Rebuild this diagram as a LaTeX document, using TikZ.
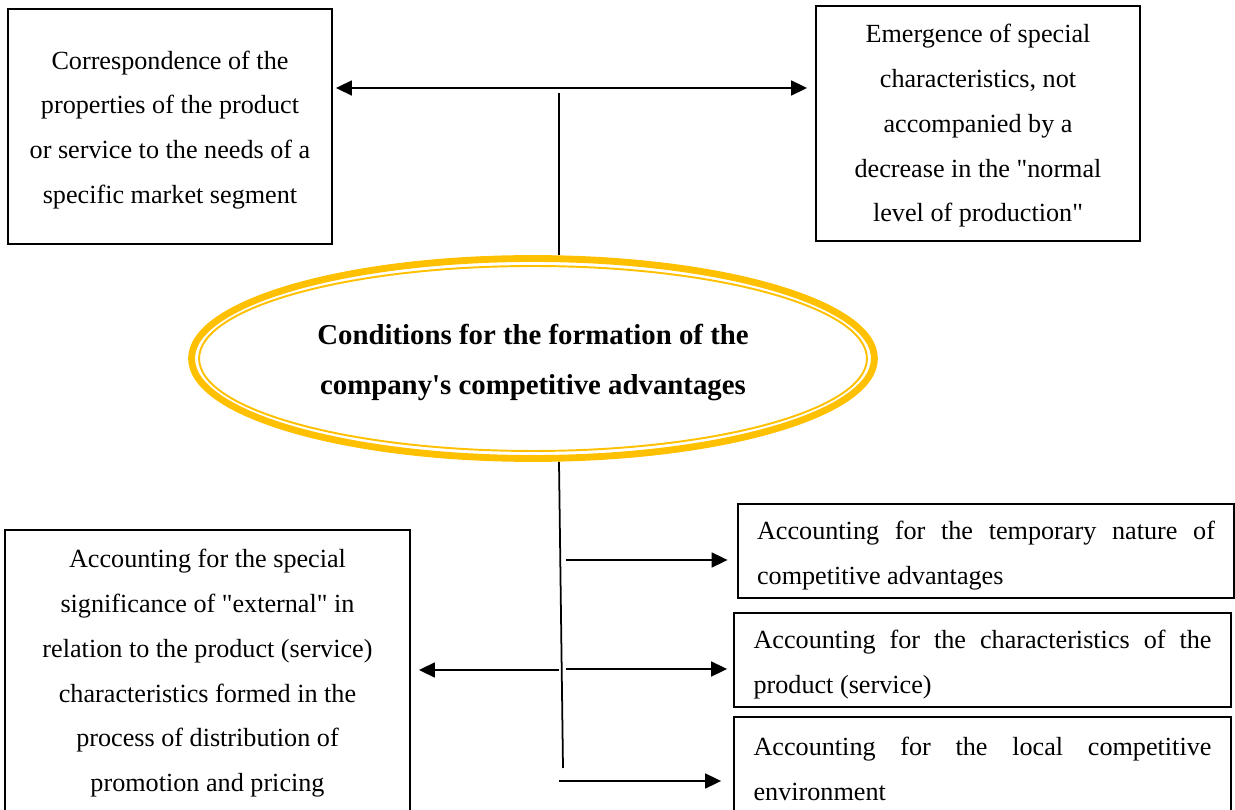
\documentclass[tikz,border=0pt]{standalone}
\usepackage{fontspec}
\newfontfamily\diafont{Liberation Serif}
\usetikzlibrary{shapes.geometric, arrows.meta, calc}
\definecolor{ringgold}{HTML}{FFC000}

\newcommand\liftto[1]{\rule{0pt}{#1}}

\begin{document}
\begin{tikzpicture}[x=0.02cm, y=-0.02cm,
	>={Triangle[length=0.32cm, width=0.3cm]},
	condbox/.style={draw, line width=1.1pt, align=center, inner sep=0pt, font=\diafont\fontsize{14.9}{25.5}\selectfont},
	notebox/.style={draw, line width=1.1pt, align=justify, text width=9.16cm, minimum width=9.94cm, minimum height=1.88cm, inner sep=0pt, execute at begin node={\liftto{16pt}}, font=\diafont\fontsize{14.9}{25.5}\selectfont},
	link/.style={line width=1pt}]
	
	\useasboundingbox (0,0) rectangle (1235,810);
	
	% Top boxes
	\node[condbox, minimum width=6.48cm, minimum height=4.7cm] (corr) at (170,126.5) {\liftto{14.3pt}Correspondence of the\\properties of the product\\or service to the needs of a\\specific market segment};
	\node[condbox, minimum width=6.48cm, minimum height=4.7cm] (spec) at (978,123.5) {\liftto{13.1pt}Emergence of special\\characteristics, not\\accompanied by a\\decrease in the "normal\\level of production"};
	
	% Central ellipse
	\node[ellipse, draw=ringgold, line width=3.9pt, minimum width=13.66cm, minimum height=4.0cm, align=center, font=\diafont\bfseries\fontsize{16.4}{28.4}\selectfont] (cond) at (533,358.5) {\liftto{16pt}Conditions for the formation of the\\company's competitive advantages};
	\draw[ringgold, line width=1.1pt] (cond.center) ellipse [x radius=6.68cm, y radius=1.85cm];
	
	% Bottom boxes
	\node[condbox, minimum width=8.1cm, minimum height=5.68cm] (ext) at (207.5,672) {\liftto{12pt}Accounting for the special\\significance of "external" in\\relation to the product (service)\\characteristics formed in the\\process of distribution of\\promotion and pricing};
	\node[notebox] (temp) at (986,551) {Accounting for the temporary nature of\linebreak competitive advantages};
	\node[notebox] (prod) at (982.5,660) {Accounting for the characteristics of the\linebreak product (service)};
	\node[notebox] (local) at (982.5,764) {Accounting for the local competitive\linebreak environment};
	
	% Connectors
	\coordinate (hub) at (559,88);
	\coordinate (hubfoot) at (559,93);
	\coordinate (trunk) at (563,768);
	\coordinate (t1) at (566,560);
	\coordinate (t2) at (566,669);
	\coordinate (t3) at (559,781);
	\coordinate (tl) at (559,670);
	
	\draw[link, <->, shorten <=0.06cm, shorten >=0.16cm] (corr.east |- hub) -- (spec.west |- hub);
	\draw[link] (hubfoot) -- (cond.north -| hubfoot);
	\draw[link] (cond.south -| hub) -- (trunk);
	\draw[link, ->, shorten >=0.18cm] (t1) -- (temp.west |- t1);
	\draw[link, ->, shorten >=0.12cm] (t2) -- (prod.west |- t2);
	\draw[link, ->, shorten >=0.24cm] (t3) -- (local.west |- t3);
	\draw[link, ->, shorten >=0.16cm] (tl) -- (ext.east |- tl);
	
\end{tikzpicture}
\end{document}
